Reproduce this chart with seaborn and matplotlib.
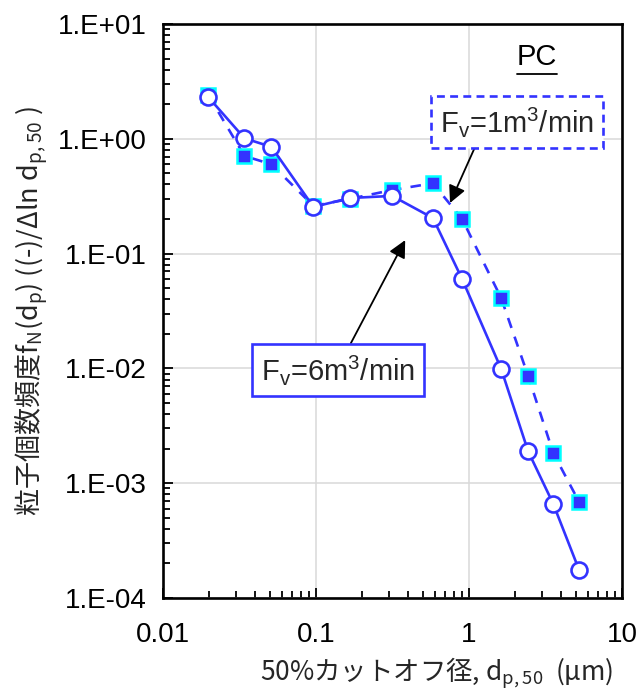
import matplotlib.pyplot as plt
import matplotlib.ticker as mticker
import seaborn as sns

sns.set_theme(style="whitegrid")
plt.rcParams["font.family"] = ["Liberation Sans", "DejaVu Sans"]

BLUE = "#3333FF"
CYAN = "#00FFFF"
CJK = ["Noto Sans CJK JP", "DejaVu Sans"]

# cut-off diameter d_p,50 (um)
dp50 = [0.0197, 0.034, 0.051, 0.096, 0.167, 0.314, 0.58, 0.90, 1.62, 2.43, 3.55, 5.24]
# Fv = 6 m3/min (circles, solid)
freq_6 = [2.31, 1.01, 0.85, 0.255, 0.305, 0.318, 0.204, 0.060, 0.0099, 0.0019, 6.6e-4, 1.75e-4]
# Fv = 1 m3/min (squares, dashed)
freq_1 = [2.41, 0.708, 0.60, 0.26, 0.30, 0.358, 0.41, 0.20, 0.041, 0.0086, 1.83e-3, 6.86e-4]

x_ticks = [0.01, 0.1, 1, 10]
x_ticklabels = ["0.01", "0.1", "1", "10"]
y_ticks = [1e-4, 1e-3, 1e-2, 1e-1, 1e0, 1e1]
y_ticklabels = ["1.E-04", "1.E-03", "1.E-02", "1.E-01", "1.E+00", "1.E+01"]

fig, ax = plt.subplots(figsize=(6.4, 6.97), dpi=100)
fig.subplots_adjust(left=0.255, right=0.972, top=0.9656, bottom=0.142)

sns.lineplot(x=dp50, y=freq_1, ax=ax, color=BLUE, linewidth=1.9,
             linestyle=(0, (4, 3.5)), marker="s", markersize=10,
             markerfacecolor=BLUE, markeredgecolor=CYAN, markeredgewidth=1.8,
             zorder=3)
sns.lineplot(x=dp50, y=freq_6, ax=ax, color=BLUE, linewidth=1.9,
             marker="o", markersize=11.5, markerfacecolor="white",
             markeredgecolor=BLUE, markeredgewidth=1.9, zorder=4)

ax.set_xscale("log")
ax.set_yscale("log")
ax.set_xlim(0.01, 10)
ax.set_ylim(1e-4, 10)
ax.set_xticks(x_ticks)
ax.set_xticklabels(x_ticklabels)
ax.set_yticks(y_ticks)
ax.set_yticklabels(y_ticklabels)
ax.xaxis.set_minor_locator(mticker.LogLocator(base=10, subs=range(2, 10)))
ax.yaxis.set_minor_locator(mticker.LogLocator(base=10, subs=range(2, 10)))
ax.xaxis.set_minor_formatter(mticker.NullFormatter())
ax.yaxis.set_minor_formatter(mticker.NullFormatter())

ax.set_facecolor("white")
ax.grid(True, which="major", color="#d9d9d9", linewidth=1.1)
ax.grid(False, which="minor")
for spine in ax.spines.values():
    spine.set_color("black")
    spine.set_linewidth(1.9)
ax.tick_params(which="both", direction="in", left=True, bottom=True,
               right=False, top=False, color="black", width=1.3)
ax.tick_params(which="major", length=7, labelsize=20, labelcolor="black")
ax.tick_params(axis="y", which="major", pad=12)
ax.tick_params(axis="x", which="major", pad=17)
ax.tick_params(which="minor", length=5)

ax.set_xlabel("50%カットオフ径, d$_\\mathregular{p,50}$  (μm)", family=CJK,
              fontsize=19, va="center")
ax.xaxis.set_label_coords(0.596, -0.131)
ax.set_ylabel("粒子個数頻度f$_\\mathregular{N}$(d$_\\mathregular{p}$) ((-)/Δln d$_\\mathregular{p,50}$ )",
              family=CJK, fontsize=19.5, va="center")
ax.yaxis.set_label_coords(-0.285, 0.5)

# "PC" panel tag, underlined
ax.text(0.815, 0.942, "PC", transform=ax.transAxes,
        ha="center", va="center", fontsize=21, color="black")
ax.plot([0.771, 0.858], [0.912, 0.912], transform=ax.transAxes,
        color="black", linewidth=1.3)

ax.annotate("F$_\\mathregular{v}$=1m$^\\mathregular{3}$/min", xy=(0.75, 0.276),
            xytext=(2.06, 1.40), textcoords="data", ha="center", va="center",
            fontsize=21,
            bbox=dict(boxstyle="square,pad=0.3", facecolor="white",
                      edgecolor=BLUE, linewidth=1.9, linestyle=(0, (3, 2))),
            arrowprops=dict(arrowstyle="-|>", color="black", linewidth=1.3,
                            mutation_scale=26, relpos=(0.25, 0.0),
                            shrinkA=0, shrinkB=0),
            zorder=6)

ax.annotate("F$_\\mathregular{v}$=6m$^\\mathregular{3}$/min", xy=(0.382, 0.131),
            xytext=(0.139, 0.0097), textcoords="data", ha="center", va="center",
            fontsize=21,
            bbox=dict(boxstyle="square,pad=0.3", facecolor="white",
                      edgecolor=BLUE, linewidth=1.9),
            arrowprops=dict(arrowstyle="-|>", color="black", linewidth=1.3,
                            mutation_scale=26, relpos=(0.55, 1.0),
                            shrinkA=0, shrinkB=0),
            zorder=6)

fig.savefig("out.png", dpi=100)
